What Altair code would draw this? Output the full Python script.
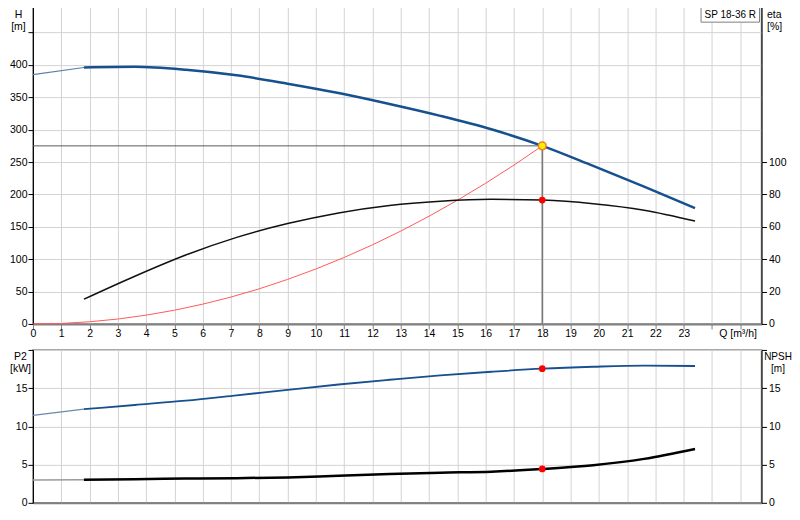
import altair as alt
import pandas as pd

FONT = "Liberation Sans"

# ---- data ----
q_main = [1.8, 3.6, 5.4, 7.2, 9.0, 10.8, 12.6, 14.4, 16.2, 18.0, 19.8, 21.6, 23.4]
h_main = [396, 397, 392.5, 384, 371, 356.5, 339.6, 321.3, 300.6, 275, 244, 212, 179]
eta_main = [15.3, 29.5, 42.6, 53.5, 62, 68.6, 73.2, 75.8, 77.0, 76.5, 74.3, 70.3, 63.6]
p2_main = [12.25, 12.8, 13.36, 14.06, 14.78, 15.48, 16.1, 16.68, 17.15, 17.55, 17.8, 17.95, 17.9]
npsh_main = [3.02, 3.1, 3.17, 3.23, 3.33, 3.55, 3.76, 3.94, 4.08, 4.43, 4.92, 5.75, 7.05]

q_ext = [0.0, 1.8]
h_ext = [385, 396]
p2_ext = [11.45, 12.25]
npsh_ext = [3.0, 3.02]

q_sys = [0, 1, 2, 3, 4, 5, 6, 7, 8, 9, 10, 11, 12, 13, 14, 15, 16, 17, 18]
h_sys = [0, 0.8, 3.4, 7.6, 13.6, 21.2, 30.6, 41.6, 54.3, 68.8, 84.9, 102.7,
         122.2, 143.4, 166.4, 191.0, 217.3, 245.3, 275.0]

op_q = 18.0
op_h = 275.0
op_eta = 76.5
op_p2 = 17.55
op_npsh = 4.43

q_ticks = [0, 1, 2, 3, 4, 5, 6, 7, 8, 9, 10, 11, 12, 13, 14, 15, 16, 17, 18,
           19, 20, 21, 22, 23, 24, 25]
h_ticks = [0, 50, 100, 150, 200, 250, 300, 350, 400, 450, 500]
eta_ticks = [0, 20, 40, 60, 80, 100]
p_ticks = [0, 5, 10, 15, 20]
model = ["SP 18-36 R"]

# ---- layout ----
W = 729
H_TOP = 324
H_BOT = 153
XDOM = [0, 25.75]

xscale = alt.Scale(domain=XDOM, nice=False, zero=False)

top_x_axis = alt.Axis(
    values=q_ticks, labelExpr="datum.value <= 23 ? datum.label : ''",
    grid=True, gridColor="#d3d3d3", tickColor="#808080", tickSize=5,
    labelPadding=0, labelFlush=False, labelOverlap=False,
    domainColor="#808080", domainWidth=2,
    title="Q [m³/h]", titleX=724, titleY=5, titleAlign="right",
    titleBaseline="top", titleFontSize=10.5, titleFontWeight="normal")

bot_x_axis = alt.Axis(
    values=q_ticks, labels=False, ticks=False, grid=True, gridColor="#d3d3d3",
    domainColor="#808080", domainWidth=2, title=None)

h_axis = alt.Axis(
    values=h_ticks, labelExpr="datum.value <= 400 ? datum.label : ''",
    grid=True, gridColor="#d3d3d3", tickSize=5, labelPadding=1,
    labelOverlap=False, domainColor="black",
    title=["H", "[m]"], titleAngle=0, titleX=-15, titleY=9, titleAlign="center",
    titleBaseline="top", titleLineHeight=12)

eta_axis = alt.Axis(
    orient="right", values=eta_ticks, grid=False, tickSize=5, labelPadding=2,
    labelOverlap=False, domainColor="black",
    title=["eta", "[%]"], titleAngle=0, titleX=5, titleY=9, titleAlign="left",
    titleBaseline="top", titleLineHeight=12)

p2_axis = alt.Axis(
    values=p_ticks, labelExpr="datum.value <= 15 ? datum.label : ''",
    grid=True, gridColor="#d3d3d3", tickSize=5, labelPadding=1,
    labelOverlap=False, domainColor="black",
    title=["P2", "[kW]"], titleAngle=0, titleX=-13, titleY=2, titleAlign="center",
    titleBaseline="top", titleLineHeight=12)

npsh_axis = alt.Axis(
    orient="right", values=p_ticks, labelExpr="datum.value <= 15 ? datum.label : ''",
    grid=False, tickSize=5, labelPadding=2, labelOverlap=False, domainColor="black",
    title=["NPSH", "[m]"], titleAngle=0, titleX=16, titleY=2, titleAlign="center",
    titleBaseline="top", titleLineHeight=12, titleFontSize=10)

XT = alt.X("q:Q", scale=xscale, axis=top_x_axis)
XB = alt.X("q:Q", scale=xscale, axis=bot_x_axis)
YH = alt.Y("h:Q", scale=alt.Scale(domain=[0, 500], nice=False), axis=h_axis)
YE = alt.Y("eta:Q", scale=alt.Scale(domain=[0, 200], nice=False), axis=eta_axis)
YP = alt.Y("p:Q", scale=alt.Scale(domain=[0, 20], nice=False), axis=p2_axis)
YN = alt.Y("n:Q", scale=alt.Scale(domain=[0, 20], nice=False), axis=npsh_axis)

# ---- top panel ----
df_h = pd.DataFrame({"q": q_main, "h": h_main})
df_hext = pd.DataFrame({"q": q_ext, "h": h_ext})
df_sys = pd.DataFrame({"q": q_sys, "h": h_sys})
df_oph = pd.DataFrame({"q": [0.0], "q2": [op_q], "h": [op_h]})
df_opv = pd.DataFrame({"q": [op_q], "h": [0.0], "h2": [op_h]})
df_opdot = pd.DataFrame({"q": [op_q], "h": [op_h]})
df_eta = pd.DataFrame({"q": q_main, "eta": eta_main})
df_etadot = pd.DataFrame({"q": [op_q], "eta": [op_eta]})
df_model = pd.DataFrame({"label": model})

sys_line = alt.Chart(df_sys).mark_line(color="#ff5a5a", strokeWidth=1).encode(x=XT, y=YH)
h_ext_line = alt.Chart(df_hext).mark_line(color="#5b7fae", strokeWidth=1.2).encode(x=XT, y=YH)
h_line = alt.Chart(df_h).mark_line(color="#17508f", strokeWidth=2.5, interpolate="monotone").encode(x=XT, y=YH)
op_hrule = alt.Chart(df_oph).mark_rule(color="#5a5a5a", strokeWidth=1).encode(x=XT, x2="q2:Q", y=YH)
op_vrule = alt.Chart(df_opv).mark_rule(color="#7a7a7a", strokeWidth=1.5).encode(x=XT, y=YH, y2="h2:Q")
op_dot = alt.Chart(df_opdot).mark_point(filled=True, fill="#ffee00", stroke="#f08020",
                                         strokeWidth=1.5, size=60, opacity=1).encode(x=XT, y=YH)
box = alt.Chart(df_model).mark_rect(fill="white", stroke="#808080", strokeWidth=1).encode(
    x=alt.value(668.5), x2=alt.value(727), y=alt.value(0), y2=alt.value(22))
box_text = alt.Chart(df_model).mark_text(align="left", baseline="middle", font=FONT,
                                          fontSize=10, color="black").encode(
    x=alt.value(672), y=alt.value(15), text="label:N")

eta_line = alt.Chart(df_eta).mark_line(color="#111111", strokeWidth=1.5, interpolate="monotone").encode(x=XT, y=YE)
eta_dot = alt.Chart(df_etadot).mark_circle(color="#ff0000", size=45, opacity=1).encode(x=XT, y=YE)

h_group = alt.layer(sys_line, h_ext_line, h_line, op_hrule, op_vrule, op_dot, box, box_text)
eta_group = alt.layer(eta_line, eta_dot)
top = alt.layer(h_group, eta_group).resolve_scale(y="independent").properties(width=W, height=H_TOP)

# ---- bottom panel ----
df_p = pd.DataFrame({"q": q_main, "p": p2_main})
df_pext = pd.DataFrame({"q": q_ext, "p": p2_ext})
df_pdot = pd.DataFrame({"q": [op_q], "p": [op_p2]})
df_n = pd.DataFrame({"q": q_main, "n": npsh_main})
df_next = pd.DataFrame({"q": q_ext, "n": npsh_ext})
df_ndot = pd.DataFrame({"q": [op_q], "n": [op_npsh]})

p_ext_line = alt.Chart(df_pext).mark_line(color="#6d88ad", strokeWidth=1.2).encode(x=XB, y=YP)
p_line = alt.Chart(df_p).mark_line(color="#17508f", strokeWidth=1.8, interpolate="monotone").encode(x=XB, y=YP)
p_dot = alt.Chart(df_pdot).mark_circle(color="#ff0000", size=45, opacity=1).encode(x=XB, y=YP)

n_ext_line = alt.Chart(df_next).mark_line(color="#9a9a9a", strokeWidth=1.5).encode(x=XB, y=YN)
n_line = alt.Chart(df_n).mark_line(color="black", strokeWidth=2.5, interpolate="monotone").encode(x=XB, y=YN)
n_dot = alt.Chart(df_ndot).mark_circle(color="#ff0000", size=45, opacity=1).encode(x=XB, y=YN)

bottom = alt.layer(
    alt.layer(p_ext_line, p_line, p_dot),
    alt.layer(n_ext_line, n_line, n_dot),
).resolve_scale(y="independent").properties(width=W, height=H_BOT)

chart = alt.vconcat(top, bottom, spacing=26, bounds="flush").properties(
    padding={"left": 0, "top": -14, "right": -0.5, "bottom": -2}
).configure_view(
    stroke="#888888", strokeWidth=1.5
).configure_axis(
    labelFont=FONT, labelFontSize=10.5, labelColor="black",
    titleFont=FONT, titleFontSize=10.5, titleFontWeight="normal", titleColor="black",
    tickColor="black", gridWidth=1
)

chart.save("out.html", embed_options={"renderer": "svg", "actions": False})
